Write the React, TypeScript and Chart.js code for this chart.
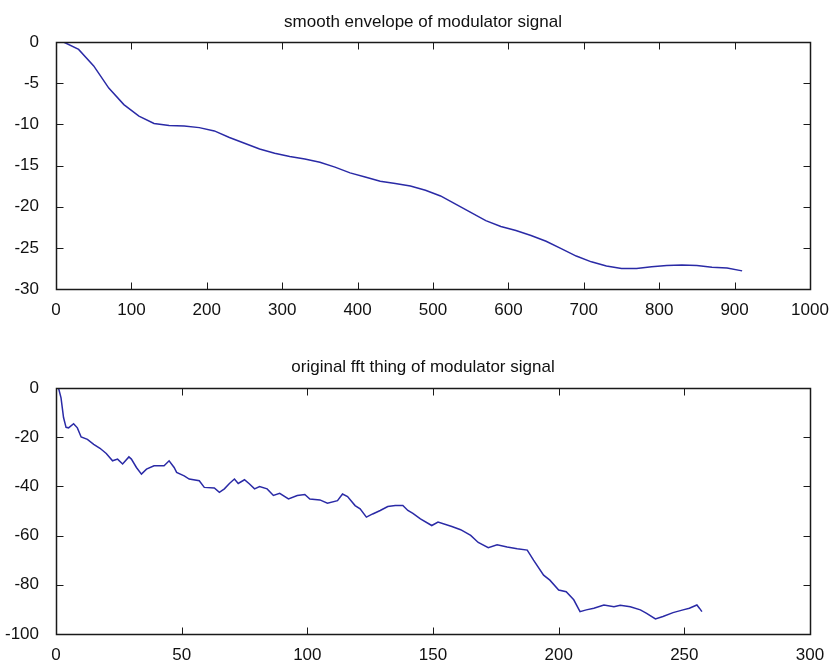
import React, { useEffect, useRef } from "react";
import { Chart, registerables } from "chart.js";

Chart.register(...registerables);

const envTitle = "smooth envelope of modulator signal";
const envX = [10, 30, 50, 70, 90, 110, 130, 150, 170, 190, 210, 230, 250, 270, 290, 310, 330, 350, 370, 390, 410, 430, 450, 470, 490, 510, 530, 550, 570, 590, 610, 630, 650, 670, 690, 710, 730, 750, 770, 790, 810, 830, 850, 870, 890, 910];
const envY = [0, -0.9, -2.9, -5.6, -7.6, -9.0, -9.9, -10.15, -10.2, -10.4, -10.8, -11.6, -12.3, -13.0, -13.5, -13.9, -14.2, -14.6, -15.2, -15.9, -16.4, -16.9, -17.2, -17.5, -18.0, -18.7, -19.7, -20.7, -21.7, -22.4, -22.9, -23.5, -24.2, -25.1, -26.0, -26.7, -27.2, -27.5, -27.5, -27.3, -27.15, -27.1, -27.15, -27.35, -27.45, -27.8];
const envXTicks = [0, 100, 200, 300, 400, 500, 600, 700, 800, 900, 1000];
const envYTicks = [-30, -25, -20, -15, -10, -5, 0];

const fftTitle = "original fft thing of modulator signal";
const fftX = [1, 2, 3, 4, 5, 7, 8.5, 10, 12.5, 15, 17.5, 20, 22.5, 24.5, 26.5, 29, 30, 32, 34, 36, 39, 43, 45, 47, 48, 51, 53, 57, 59, 63, 65, 67, 69, 71, 72.5, 75, 77, 79, 81, 84, 86.5, 89, 92.5, 96, 99, 101, 105, 108, 112, 114, 116, 119, 121, 123.5, 126, 129, 132, 135, 138, 140, 142, 145, 149.5, 152, 157.5, 161, 165, 168, 172, 175.5, 179.5, 183.5, 187.5, 190, 194, 196.5, 200, 203, 206, 208.5, 211, 214, 218, 222, 224.5, 228.5, 232.5, 235, 238.5, 241.5, 245.5, 249.5, 252, 255, 256, 257];
const fftY = [0, -4, -12, -16, -16.2, -14.5, -16.2, -19.9, -20.9, -22.9, -24.5, -26.6, -29.6, -28.9, -30.9, -28.0, -28.9, -32.3, -35.0, -33.0, -31.6, -31.6, -29.6, -32.3, -34.3, -35.7, -37.0, -37.7, -40.4, -40.6, -42.4, -41.0, -38.8, -37.0, -38.8, -37.3, -39.0, -41.0, -40.1, -41.0, -43.7, -42.8, -45.1, -43.7, -43.3, -45.1, -45.5, -46.8, -45.8, -43.1, -44.1, -47.8, -49.1, -52.5, -51.2, -49.8, -48.2, -47.8, -47.8, -49.8, -51.0, -53.2, -55.9, -54.5, -56.3, -57.6, -59.9, -62.8, -64.9, -63.7, -64.6, -65.3, -65.9, -70.0, -76.1, -78.1, -82.1, -82.8, -86.1, -90.9, -90.2, -89.5, -88.2, -88.9, -88.3, -88.9, -90.2, -91.6, -93.9, -92.9, -91.3, -90.2, -89.5, -88.2, -89.5, -90.9];
const fftXTicks = [0, 50, 100, 150, 200, 250, 300];
const fftYTicks = [-100, -80, -60, -40, -20, 0];

const FONT = "'Liberation Sans', Arial, sans-serif";
const LINE_COLOR = "#2a2aa6";

const boxPlugin = {
  id: "matlabBox",
  afterDraw(chart: any, _args: any, opts: any) {
    const { ctx, chartArea } = chart;
    const { left, right, top, bottom } = chartArea;
    const L = Math.round(left) + 0.5;
    const R = Math.round(right) + 0.5;
    const T = Math.round(top) + 0.5;
    const B = Math.round(bottom) + 0.5;
    const tl = 7;
    ctx.save();
    ctx.strokeStyle = "#1a1a1a";
    ctx.lineWidth = 1;
    ctx.beginPath();
    const xs = chart.scales.x;
    xs.ticks.forEach((t: any) => {
      const p = Math.round(xs.getPixelForValue(t.value)) + 0.5;
      ctx.moveTo(p, B);
      ctx.lineTo(p, B - tl);
      ctx.moveTo(p, T);
      ctx.lineTo(p, T + tl);
    });
    const ys = chart.scales.y;
    ys.ticks.forEach((t: any) => {
      const p = Math.round(ys.getPixelForValue(t.value)) + 0.5;
      ctx.moveTo(L, p);
      ctx.lineTo(L + tl, p);
      ctx.moveTo(R, p);
      ctx.lineTo(R - tl, p);
    });
    ctx.stroke();
    ctx.lineWidth = 1.5;
    ctx.strokeRect(L, T, R - L, B - T);
    if (opts && opts.text) {
      ctx.fillStyle = "#111";
      ctx.font = `17px ${FONT}`;
      ctx.textAlign = "center";
      ctx.textBaseline = "middle";
      ctx.fillText(opts.text, opts.cx, opts.cy);
    }
    ctx.restore();
  },
};

type PlotProps = {
  title: string;
  xs: number[];
  ys: number[];
  xTicks: number[];
  yTicks: number[];
  top: number;
  height: number;
  areaTop: number;
  areaBottom: number;
  titleY: number;
};

function Plot(props: PlotProps) {
  const ref = useRef<HTMLCanvasElement | null>(null);
  useEffect(() => {
    const canvas = ref.current;
    if (!canvas) return;
    const { title, xs, ys, xTicks, yTicks, height, areaTop, areaBottom, titleY } = props;
    const pts = xs.map((x, i) => ({ x, y: ys[i] }));
    const xStep = xTicks[1] - xTicks[0];
    const yStep = yTicks[1] - yTicks[0];
    const chart = new Chart(canvas, {
      type: "line",
      data: {
        datasets: [
          {
            data: pts,
            borderColor: LINE_COLOR,
            borderWidth: 1.5,
            pointRadius: 0,
            tension: 0,
            fill: false,
          },
        ],
      },
      options: {
        animation: false,
        responsive: false,
        maintainAspectRatio: false,
        events: [],
        layout: { padding: { left: 0, right: 23, top: areaTop, bottom: 0 } },
        plugins: {
          legend: { display: false },
          tooltip: { enabled: false },
          title: { display: false },
          matlabBox: { text: title, cx: 423, cy: titleY },
        } as any,
        scales: {
          x: {
            type: "linear",
            min: xTicks[0],
            max: xTicks[xTicks.length - 1],
            grid: { display: false },
            border: { display: false },
            ticks: {
              stepSize: xStep,
              color: "#111",
              padding: 3,
              maxRotation: 0,
              autoSkip: false,
              font: { family: FONT, size: 17 },
              callback: (v: any) => String(v),
            },
            afterFit: (s: any) => {
              s.height = height - areaBottom;
            },
          },
          y: {
            type: "linear",
            min: yTicks[0],
            max: yTicks[yTicks.length - 1],
            grid: { display: false },
            border: { display: false },
            ticks: {
              stepSize: yStep,
              color: "#111",
              padding: 9,
              autoSkip: false,
              font: { family: FONT, size: 17 },
              callback: (v: any) => String(v),
            },
            afterFit: (s: any) => {
              s.width = 56;
            },
          },
        },
      },
      plugins: [boxPlugin],
    });
    return () => chart.destroy();
  }, []);
  return (
    <canvas
      ref={ref}
      width={833}
      height={props.height}
      style={{ position: "absolute", left: 0, top: props.top, width: 833, height: props.height }}
    />
  );
}

export default function App() {
  return (
    <div style={{ position: "fixed", left: 0, top: 0, width: 833, height: 662, background: "#fff" }}>
      <Plot title={envTitle} xs={envX} ys={envY} xTicks={envXTicks} yTicks={envYTicks} top={0} height={331} areaTop={42} areaBottom={289} titleY={22} />
      <Plot title={fftTitle} xs={fftX} ys={fftY} xTicks={fftXTicks} yTicks={fftYTicks} top={331} height={331} areaTop={57} areaBottom={303} titleY={36} />
    </div>
  );
}
